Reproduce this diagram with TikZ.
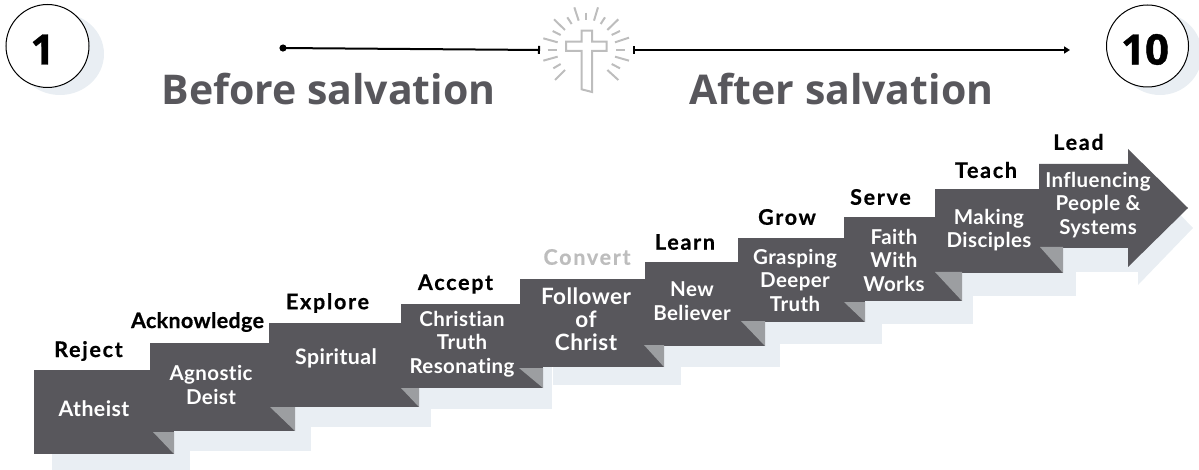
\documentclass[tikz,border=0pt]{standalone}
\usepackage{fontspec}
\setmainfont{Lato}
\newfontfamily\headfont{Open Sans}
\newfontfamily\numfont[BoldFeatures={FakeBold=1}]{Open Sans}
\newfontfamily\titlefont[LetterSpace=8,BoldFeatures={FakeBold=0.6}]{Lato}
\newfontfamily\tighttitlefont[LetterSpace=1.5,BoldFeatures={FakeBold=0.6}]{Lato}
\newfontfamily\descfont[LetterSpace=2,Ligatures=NoCommon]{Lato}
\usetikzlibrary{arrows.meta}
\definecolor{slab}{HTML}{58575C}
\definecolor{foldc}{HTML}{9C9EA1}
\definecolor{pale}{HTML}{E9EEF3}
\definecolor{crossc}{HTML}{BDBDBD}
\tikzset{
  stepshade/.style={fill=pale,draw=none},
  stepbox/.style={fill=slab,draw=none},
  stepfold/.style={fill=foldc,draw=none},
  steptitle/.style={font=\fontsize{21.5}{25}\selectfont\titlefont\bfseries,text=black,inner sep=0pt,anchor=center},
  acktitle/.style={font=\fontsize{21.5}{25}\selectfont\tighttitlefont\bfseries},
  stepdesc/.style={font=\fontsize{20.5}{23.5}\selectfont\descfont\bfseries,text=white,align=center,inner sep=0pt,anchor=center},
  largedesc/.style={font=\fontsize{22.5}{23}\selectfont\descfont\bfseries},
  middesc/.style={font=\fontsize{21.3}{23.5}\selectfont\descfont\bfseries},
  heading/.style={font=\fontsize{41}{48}\selectfont\headfont\bfseries,text=slab,inner sep=0pt,anchor=base},
  numcircle/.style={draw=black,line width=1pt,fill=white},
  numtext/.style={font=\fontsize{42}{48}\selectfont\numfont\bfseries,text=black,inner sep=0pt},
  ray/.style={draw=crossc,line width=2pt},
  timeline/.style={draw=black,line width=2pt}
}
\begin{document}
\begin{tikzpicture}[x=1pt,y=-1pt]
\useasboundingbox (0,0) rectangle (1199,470);
% shadows
\fill[pale] (60,54) ellipse [x radius=44,y radius=41];
\fill[pale] (1160,54) ellipse [x radius=42,y radius=41];
\foreach \a/\b/\c/\d in {52/388/190/470,168/361/311/451,287/341/431/427,419/322/552/409,553/297/681/385,663/280/780/367,756/256/882/344,862/235/973/324,953/207/1076/296}
  \fill[stepshade] (\a,\b) rectangle (\c,\d);
\fill[stepshade] (1057,182) -- (1138,182) -- (1138,171) -- (1193,228) -- (1138,285) -- (1138,272) -- (1057,272) -- cycle;
% circles
\draw[numcircle] (47.5,46) circle [radius=41.5];
\draw[numcircle] (1147.5,46) circle [radius=41];
\node[numtext] (one) at (42.5,49.5) {1};
\node[numtext] (ten) at (1145,49.5) {10};
% timeline
\coordinate (startA) at (279.5,48);
\coordinate (endA) at (540,50);
\coordinate (startB) at (633,50);
\coordinate (endB) at (1070,50);
\draw[timeline,{Circle[length=7pt,width=7pt]}-{Bar[width=8pt,length=1pt]}] (startA) -- (endA);
\draw[timeline,{Bar[width=8pt,length=1pt]}-{Stealth[length=6pt,width=7pt,inset=0pt]}] (startB) -- (endB);
% cross
\begin{scope}[shift={(530,0)},x=0.3333pt,y=-0.3333pt]
\draw[draw=crossc,line width=2pt,line join=miter]
 (155,92) -- (186,92) -- (186,125) -- (230,125) -- (230,153) -- (186,153) -- (186,276) -- (155,268) -- (155,153) -- (108,153) -- (108,125) -- (155,125) -- cycle;
\foreach \xa/\ya/\xb/\yb in {168/38/168/60,133/22/146/62,204/22/192/62,112/52/125/72,225/52/212/72,72/58/105/90,265/58/232/90,68/93/92/105,270/93/245/105,40/115/83/127,297/113/255/127,53/149/80/149,285/149/258/149,40/182/83/170,297/182/255/170,70/205/92/192,270/205/245/192,75/240/105/210,265/240/232/210}
  \draw[ray] (\xa,\ya) -- (\xb,\yb);
\end{scope}
% headings
\node[heading] (before) at (328.5,105) {Before salvation};
\node[heading] (after) at (841.5,105) {After salvation};
% step boxes
\foreach \a/\b/\c/\d in {34/370/174/454,150/343/295/431,269/323/419/407,401/304/543/388,520/279/664/367,645/262/765/346,738/238/865/322,844/217/962/301,935/189/1063/273}
  \fill[stepbox] (\a,\b) rectangle (\c,\d);
\fill[stepbox] (1039,164) -- (1128,164) -- (1128,149) -- (1188,208) -- (1128,267) -- (1128,248) -- (1039,248) -- cycle;
% folds
\foreach \a/\b/\c/\d in {153/432/174/454,270/407/295/431,401/388/419/407,519/368/543/388,644/345/664/367,741/321/765/346,844/302/865/322,935/272/962/301,1040/247/1063/273}
  \fill[stepfold] (\a,\b) -- (\c,\b) -- (\c,\d) -- cycle;
% titles
\node[steptitle] (tReject) at (88.5,351) {Reject};
\node[steptitle,acktitle] (tAck) at (197.5,322) {Acknowledge};
\node[steptitle] (tExplore) at (327.5,303) {Explore};
\node[steptitle] (tAccept) at (455.5,284) {Accept};
\node[steptitle,text=crossc] (tConvert) at (587,257) {Convert};
\node[steptitle] (tLearn) at (685,242) {Learn};
\node[steptitle] (tGrow) at (787,217) {Grow};
\node[steptitle] (tServe) at (880.5,197) {Serve};
\node[steptitle] (tTeach) at (986,170) {Teach};
\node[steptitle] (tLead) at (1078.5,142) {Lead};
% descriptions
\node[stepdesc,middesc] (dAtheist) at (94,409) {Atheist};
\node[stepdesc] (dAgnostic) at (211,385) {Agnostic\\Deist};
\node[stepdesc,middesc] (dSpiritual) at (336,358) {Spiritual};
\node[stepdesc] (dChristian) at (462,344) {Christian\\Truth\\Resonating};
\node[stepdesc,largedesc] (dFollower) at (586,319) {Follower\\of\\Christ};
\node[stepdesc] (dNew) at (692,301) {New\\Believer};
\node[stepdesc] (dGrasp) at (795,280) {Grasping\\Deeper\\Truth};
\node[stepdesc] (dFaith) at (894,260) {Faith\\With\\Works};
\node[stepdesc] (dMaking) at (989,230) {Making\\Disciples};
\node[stepdesc] (dInfl) at (1098,205) {Influencing\\People \&\\Systems};
\end{tikzpicture}
\end{document}
